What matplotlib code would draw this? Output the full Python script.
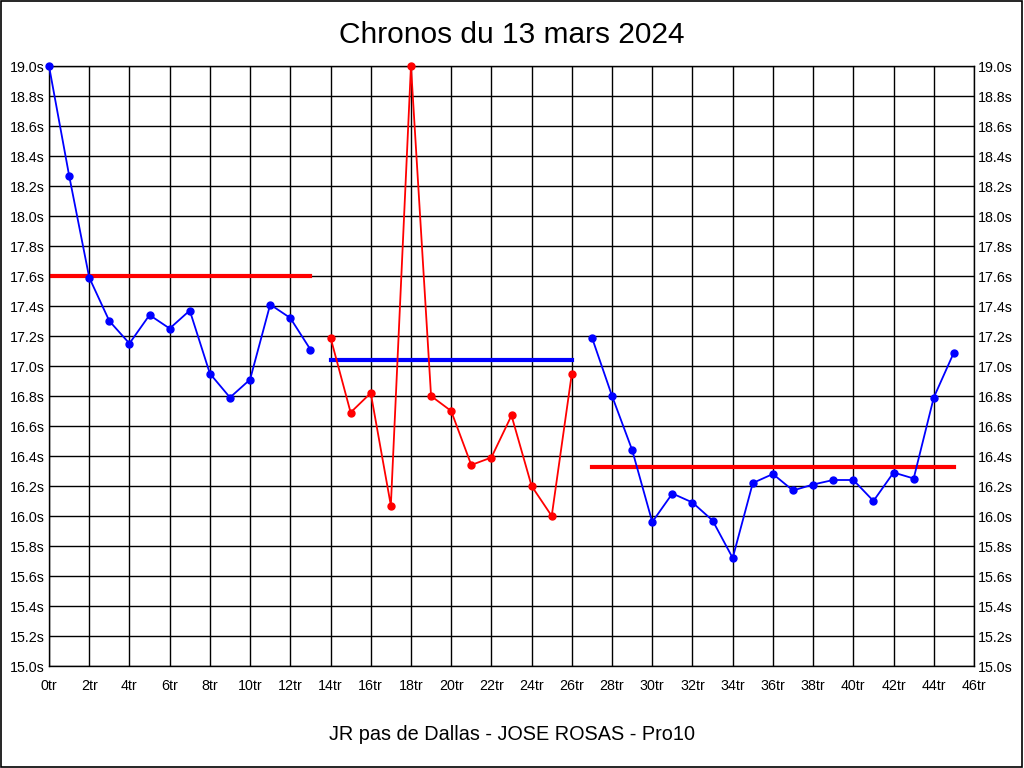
import matplotlib
matplotlib.use("Agg")
import matplotlib.pyplot as plt
from matplotlib.patches import Rectangle
import numpy as np

plt.rcParams['font.family'] = ['Liberation Sans', 'DejaVu Sans']

# ---- data ----
laps_1 = list(range(0, 14))
times_1 = [19.00, 18.27, 17.59, 17.30, 17.15, 17.34, 17.25, 17.37, 16.95,
           16.79, 16.91, 17.41, 17.32, 17.11]
laps_2 = list(range(14, 27))
times_2 = [17.19, 16.69, 16.82, 16.07, 19.00, 16.80, 16.70, 16.34, 16.39,
           16.67, 16.20, 16.00, 16.95]
laps_3 = list(range(27, 46))
times_3 = [17.19, 16.80, 16.44, 15.96, 16.15, 16.09, 15.97, 15.72, 16.22,
           16.28, 16.17, 16.21, 16.24, 16.24, 16.10, 16.29, 16.25, 16.79, 17.09]

mean_1 = 17.60
mean_2 = 17.04
mean_3 = 16.33

x_ticks = list(range(0, 47, 2))
x_labels = [f"{v}tr" for v in x_ticks]
y_ticks = [round(15.0 + 0.2 * i, 1) for i in range(21)]
y_labels = [f"{v:.1f}s" for v in y_ticks]

title = "Chronos du 13 mars 2024"
xlabel = "JR pas de Dallas - JOSE ROSAS - Pro10"

BLUE = "#0000FF"
RED = "#FF0000"

fig = plt.figure(figsize=(10.24, 7.68), dpi=100)
ax = fig.add_axes([49 / 1024, 1 - 666 / 768, (974 - 49) / 1024, (666 - 66) / 768])

ax.set_xlim(0, 46)
ax.set_ylim(15.0, 19.0)
ax.set_xticks(x_ticks)
ax.set_xticklabels(x_labels)
ax.set_yticks(y_ticks)
ax.set_yticklabels(y_labels)
ax.tick_params(axis='both', length=0, labelsize=10.3)
ax.tick_params(axis='x', pad=9)
ax.tick_params(axis='y', pad=3, labelright=True, right=False)
ax.grid(True, color='black', linewidth=1.0)
ax.set_axisbelow(True)
for s in ax.spines.values():
    s.set_color('black')
    s.set_linewidth(1.0)

ms = 5
lw = 1.3
ax.plot(laps_1, times_1, color=BLUE, lw=lw, marker='o', ms=ms, clip_on=False, zorder=3)
ax.plot(laps_2, times_2, color=RED, lw=lw, marker='o', ms=ms, clip_on=False, zorder=3)
ax.plot(laps_3, times_3, color=BLUE, lw=lw, marker='o', ms=ms, clip_on=False, zorder=3)

ax.plot([laps_1[0], laps_1[-1]], [mean_1, mean_1], color=RED, lw=3, zorder=2.5)
ax.plot([laps_2[0], laps_2[-1]], [mean_2, mean_2], color=BLUE, lw=3, zorder=2.5)
ax.plot([laps_3[0], laps_3[-1]], [mean_3, mean_3], color=RED, lw=3, zorder=2.5)

fig.text(0.5, 1 - 35 / 768, title, ha='center', va='center', fontsize=21.5)
fig.text(0.5, 1 - 735 / 768, xlabel, ha='center', va='center', fontsize=14.3)

fig.patches.append(Rectangle((0.0005, 0.0007), 0.998, 0.998, transform=fig.transFigure,
                             fill=False, edgecolor='black', linewidth=1.2))

fig.savefig("out.png", dpi=100)
